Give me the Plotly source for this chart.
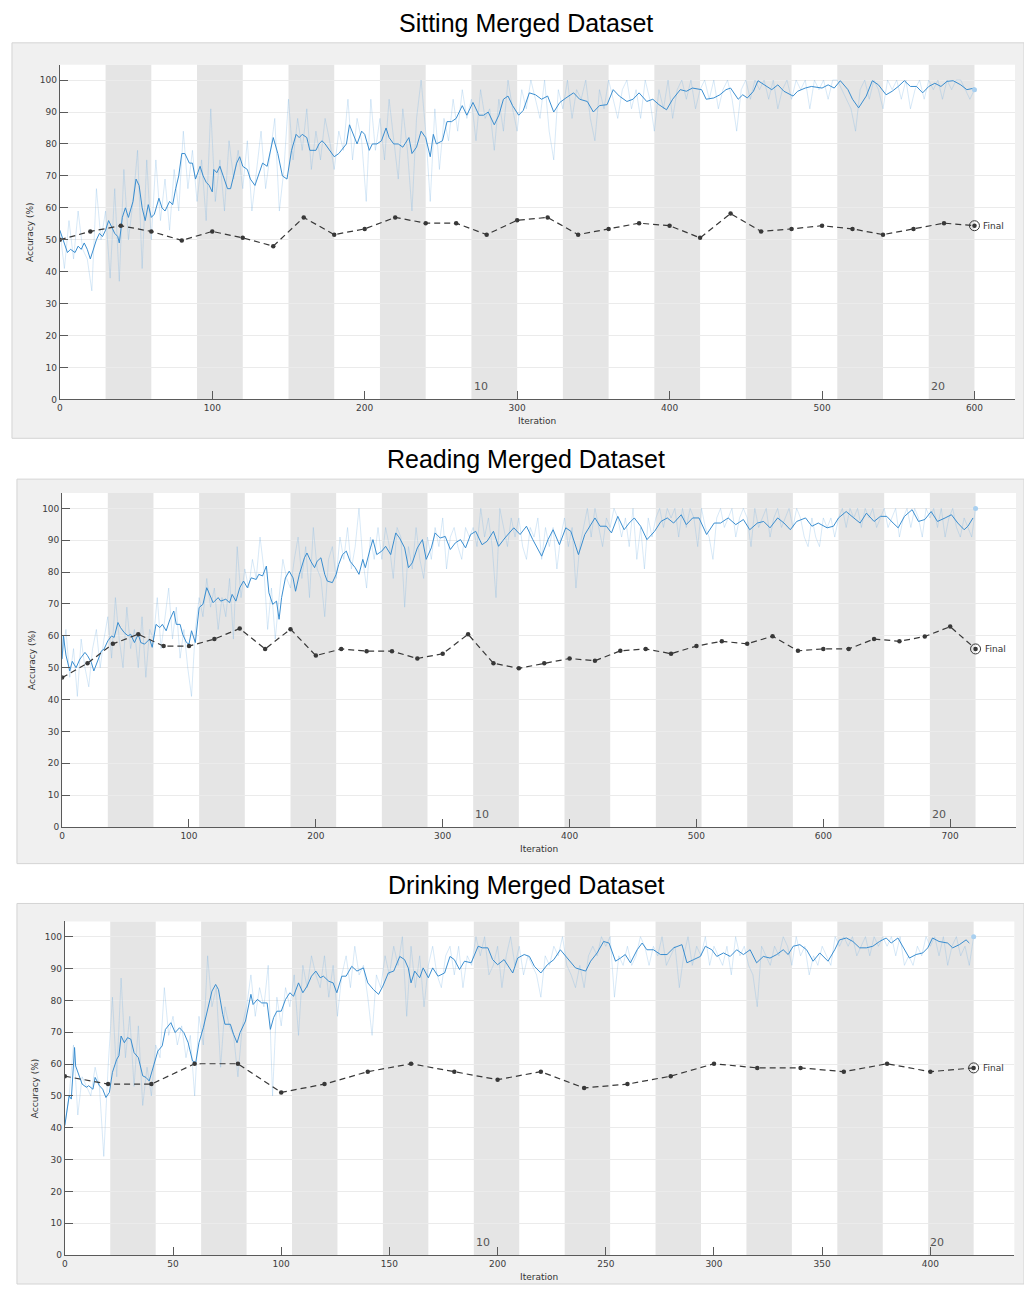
import plotly.graph_objects as go

W, H = 1024, 1289

# ---------------- Sitting ----------------
sit_iterations = 600
sit_raw_step = 3
sit_raw_acc = [
    53, 41, 56, 44, 59, 47, 44, 34, 66, 50,
    59, 38, 66, 37, 72, 50, 62, 78, 41, 75,
    50, 75, 56, 69, 53, 72, 59, 84, 66, 78,
    62, 75, 56, 91, 62, 75, 59, 81, 69, 78,
    66, 81, 59, 72, 84, 66, 78, 88, 59, 72,
    94, 75, 88, 78, 91, 72, 84, 75, 88, 81,
    72, 84, 78, 94, 75, 88, 81, 62, 94, 78,
    88, 75, 94, 81, 69, 91, 78, 59, 88, 100,
    84, 62, 91, 72, 88, 81, 94, 84, 97, 88,
    94, 81, 97, 88, 91, 78, 94, 84, 100, 91,
    84, 97, 91, 100, 94, 88, 100, 84, 75, 97,
    91, 100, 88, 97, 94, 100, 88, 81, 97, 91,
    100, 94, 88, 97, 100, 91, 97, 88, 100, 94,
    84, 97, 91, 100, 88, 97, 100, 94, 100, 91,
    97, 100, 94, 100, 91, 97, 100, 94, 84, 97,
    100, 94, 100, 97, 100, 94, 100, 91, 97, 100,
    94, 100, 97, 100, 91, 100, 97, 100, 94, 100,
    100, 97, 94, 91, 84, 97, 100, 94, 100, 97,
    91, 100, 97, 100, 94, 100, 91, 97, 100, 94,
    100, 97, 100, 94, 100, 97, 100, 100, 97, 94,
    97,
]
sit_smooth_iter = [
    0, 3, 5, 7, 10, 12, 14, 16, 18, 20, 22, 24, 26, 28, 30, 32, 34, 36, 38, 39,
    41, 43, 45, 48, 50, 52, 54, 56, 58, 60, 62, 65, 67, 69, 72, 74, 76, 78, 80, 82,
    85, 87, 89, 92, 94, 96, 98, 100, 101, 103, 105, 108, 110, 112, 114, 116, 118, 120, 123, 125,
    128, 131, 133, 136, 138, 140, 143, 146, 149, 150, 152, 155, 157, 159, 162, 164, 168, 170, 172, 174,
    177, 180, 183, 186, 188, 190, 193, 195, 198, 200, 203, 205, 208, 211, 214, 216, 219, 222, 225, 229,
    231, 234, 237, 240, 243, 245, 247, 251, 254, 257, 260, 264, 267, 271, 275, 278, 281, 285, 288, 291,
    294, 297, 301, 304, 308, 312, 316, 320, 324, 328, 332, 337, 341, 346, 350, 354, 359, 363, 367, 372,
    376, 380, 385, 389, 393, 398, 402, 407, 411, 415, 421, 424, 429, 433, 437, 440, 445, 448, 451, 455,
    458, 462, 467, 471, 475, 481, 484, 489, 493, 500, 504, 508, 512, 517, 520, 524, 529, 533, 537, 542,
    546, 550, 554, 558, 562, 566, 570, 574, 578, 582, 586, 591, 595, 600,
]
sit_smooth_acc = [
    53, 49, 46, 47, 46, 48, 47, 49, 47, 44, 47, 50, 52, 51, 53, 56, 54, 52, 51, 49,
    57, 60, 57, 62, 69, 67, 60, 56, 61, 57, 58, 63, 60, 59, 62, 61, 66, 70, 77, 77,
    74, 74, 69, 73, 70, 68, 67, 65, 72, 71, 73, 69, 66, 66, 70, 74, 76, 73, 72, 69,
    67, 71, 74, 73, 77, 82, 77, 70, 69, 72, 78, 83, 82, 83, 82, 78, 78, 80, 81, 80,
    78, 76, 77, 79, 80, 86, 82, 80, 84, 83, 78, 80, 80, 81, 85, 82, 80, 80, 79, 82,
    77, 79, 84, 82, 76, 83, 80, 81, 87, 87, 88, 92, 89, 93, 89, 89, 90, 86, 89, 94,
    95, 92, 89, 90.5, 96, 95.4, 94, 95, 90, 93, 94.4, 96, 94, 93.3, 90, 92, 92.3, 97, 95, 93.3,
    94, 96, 93.3, 94, 92.3, 90.7, 94, 97, 96.5, 97.5, 97, 94, 94.4, 95.4, 97, 97.5, 94, 95.4, 94.4, 96.5,
    99.8, 98.5, 97, 98.5, 96.5, 95, 96.5, 97.5, 98, 97.5, 98.5, 97.5, 99.8, 97, 94, 91.3, 95, 99.8, 98.5, 95.4,
    96.5, 98, 99.8, 98, 98, 96, 98, 99, 98, 99.6, 99.8, 98.5, 97, 97.5,
]
sit_val_step = 20
sit_val_acc = [
    50, 52.6, 54.4, 52.6, 49.8, 52.6, 50.6, 48.0, 57.0, 51.6,
    53.4, 57.0, 55.2, 55.2, 51.6, 56.1, 57.0, 51.6, 53.4, 55.2,
    54.4, 50.6, 58.2, 52.6, 53.4, 54.4, 53.4, 51.6, 53.4, 55.2,
    54.4,
]
sit_xticks = [0, 100, 200, 300, 400, 500, 600]

# ---------------- Reading ----------------
read_iterations = 720
read_raw_step = 3
read_raw_acc = [
    53, 62, 47, 56, 41, 59, 50, 44, 56, 62, 50, 59,
    66, 53, 72, 59, 50, 69, 56, 62, 50, 66, 47, 62,
    59, 72, 56, 66, 75, 59, 69, 53, 62, 50, 41, 62,
    72, 66, 78, 69, 75, 62, 72, 66, 78, 59, 88, 72,
    81, 75, 84, 78, 91, 81, 62, 75, 59, 72, 84, 78,
    75, 84, 91, 78, 88, 72, 94, 81, 78, 66, 84, 88,
    78, 91, 84, 94, 81, 88, 100, 84, 75, 91, 84, 94,
    84, 94, 88, 78, 94, 91, 69, 88, 81, 94, 84, 78,
    91, 84, 94, 88, 97, 81, 91, 94, 88, 84, 94, 91,
    94, 88, 100, 91, 97, 88, 72, 100, 94, 88, 97, 91,
    97, 88, 84, 94, 91, 97, 84, 94, 88, 94, 81, 91,
    97, 88, 94, 75, 88, 94, 100, 91, 100, 94, 88, 97,
    94, 100, 97, 91, 97, 88, 100, 84, 94, 81, 97, 91,
    97, 100, 94, 100, 97, 100, 91, 100, 94, 100, 97, 88,
    100, 94, 91, 84, 97, 100, 94, 97, 100, 91, 97, 100,
    97, 88, 100, 94, 97, 100, 91, 97, 100, 94, 97, 100,
    94, 100, 97, 91, 88, 97, 91, 88, 97, 94, 97, 91,
    97, 100, 94, 100, 97, 100, 94, 100, 97, 100, 94, 97,
    100, 94, 97, 100, 91, 97, 100, 94, 100, 97, 91, 100,
    97, 100, 94, 100, 91, 97, 100, 94, 91, 97, 94, 91,
    100,
]
read_smooth_iter = [
    0, 1, 3, 6, 8, 11, 14, 18, 20, 23, 25, 28, 31, 33, 36, 39, 41, 44, 46, 49,
    52, 54, 57, 60, 62, 65, 69, 71, 74, 77, 79, 82, 85, 88, 90, 93, 95, 98, 100, 102,
    105, 108, 111, 114, 117, 119, 123, 125, 129, 132, 134, 137, 140, 143, 146, 149, 153, 155, 158, 161,
    163, 166, 169, 171, 173, 176, 179, 182, 184, 187, 191, 193, 196, 199, 201, 204, 207, 209, 213, 216,
    218, 221, 224, 227, 231, 234, 237, 239, 243, 245, 248, 252, 255, 259, 263, 266, 270, 273, 276, 280,
    284, 287, 291, 294, 298, 302, 306, 310, 314, 318, 322, 326, 331, 335, 340, 344, 349, 356, 361, 366,
    371, 378, 383, 387, 392, 397, 401, 407, 412, 416, 420, 424, 429, 433, 438, 443, 447, 451, 456, 461,
    467, 472, 477, 482, 488, 492, 497, 502, 508, 514, 519, 525, 531, 537, 542, 548, 553, 558, 564, 569,
    574, 579, 586, 591, 596, 603, 608, 612, 618, 624, 629, 634, 640, 645, 650, 655, 659, 664, 670, 675,
    680, 685, 690, 696, 701, 706, 711, 714, 718,
]
read_smooth_acc = [
    52.7, 60, 54, 49, 52, 50, 52.7, 54.8, 53.8, 51.7, 49, 52, 55.3, 55.8, 58.4, 60, 59.5, 64.2, 62.6, 61,
    60, 60.5, 57.9, 60.5, 57.9, 57.4, 59, 56.4, 63.6, 62.6, 63.6, 61.6, 65.2, 67.8, 63.6, 63.6, 60.5, 57.9, 57.4, 61.6,
    57.9, 68.9, 69.9, 75.1, 72.5, 70.4, 72, 70.9, 71.5, 70.4, 73, 70.9, 75.1, 77.2, 75.1, 78.2, 77.7, 79.3, 78.8, 81.9,
    73.5, 69.9, 70.9, 65.2, 72, 78.2, 80.3, 78.2, 74, 79.3, 84.5, 86, 83.4, 81.4, 83.4, 84.5, 79.3, 77.2, 76.7, 79.3,
    82.4, 85.5, 86.6, 83.4, 81.4, 79.3, 84, 81.4, 87.6, 90.2, 85.5, 86.6, 88.1, 85.5, 92.3, 90.7, 87.6, 81.4, 82.9, 87.6,
    90.2, 84, 87.6, 92.3, 90.7, 91.2, 87.1, 89.2, 90.2, 87.6, 91.8, 92.8, 88.6, 89.7, 92.8, 88.1, 90.7, 93.9, 91.8, 94.4,
    90.2, 85, 90.2, 93.3, 88.6, 93.9, 92.8, 85.5, 91.8, 94.4, 97, 94.4, 94.4, 92.3, 97.5, 93.3, 95.4, 97, 94.4, 90.2,
    92.8, 95.9, 97, 95.4, 98, 94.9, 97, 97, 91.8, 95.4, 95.4, 97, 94.9, 96.5, 93.3, 95.4, 95.9, 93.9, 97, 95.4,
    93.3, 95.9, 97, 94.4, 95.4, 93.9, 94.4, 97, 99, 97, 95.4, 98.5, 95.9, 97.5, 97.5, 95.4, 93.9, 97.5, 99.6, 95.9,
    96.5, 99, 95.9, 97, 98, 95.4, 93.3, 94.4, 97,
]
read_val_step = 20
read_val_acc = [
    46.9, 51.4, 57.5, 60.5, 56.8, 56.8, 59.0, 62.3, 55.9, 62.1,
    53.8, 55.9, 55.2, 55.2, 52.9, 54.4, 60.5, 51.4, 49.8, 51.4,
    52.9, 52.2, 55.3, 55.9, 54.4, 56.8, 58.3, 57.5, 59.9, 55.3,
    55.9, 55.9, 59.0, 58.3, 59.8, 62.9, 55.9,
]
read_xticks = [0, 100, 200, 300, 400, 500, 600, 700]

# ---------------- Drinking ----------------
drink_iterations = 420
drink_raw_step = 2
drink_raw_acc = [
    41, 50, 66, 44, 56, 53, 50, 59, 53, 31,
    59, 81, 56, 87, 62, 75, 53, 72, 47, 59,
    50, 66, 62, 84, 69, 75, 66, 72, 62, 69,
    50, 75, 66, 94, 78, 84, 59, 78, 72, 69,
    56, 72, 78, 88, 75, 84, 78, 91, 50, 81,
    72, 84, 78, 88, 69, 91, 84, 94, 88, 84,
    94, 81, 91, 75, 88, 94, 84, 97, 88, 91,
    81, 69, 88, 84, 94, 88, 97, 91, 100, 75,
    97, 84, 94, 78, 91, 97, 88, 84, 94, 97,
    88, 97, 84, 94, 91, 100, 94, 100, 88, 91,
    97, 84, 94, 100, 91, 97, 88, 94, 91, 88,
    81, 94, 91, 97, 94, 100, 91, 88, 84, 91,
    84, 94, 97, 94, 100, 97, 100, 81, 94, 91,
    97, 91, 94, 100, 97, 91, 97, 94, 100, 91,
    94, 97, 84, 94, 100, 91, 97, 94, 100, 91,
    97, 94, 91, 97, 88, 100, 94, 97, 91, 88,
    78, 97, 94, 91, 97, 94, 100, 97, 91, 100,
    94, 97, 88, 94, 91, 97, 94, 91, 100, 97,
    100, 97, 100, 94, 97, 100, 94, 100, 97, 100,
    97, 100, 94, 100, 91, 94, 91, 97, 94, 100,
    97, 100, 94, 100, 91, 97, 100, 94, 97, 91,
    100,
]
drink_smooth_iter = [
    0, 2, 3, 4, 4.5, 5, 7, 8, 10, 11, 13, 14, 16, 17.5, 19, 20.6, 22, 24, 25, 26,
    27.5, 29, 30.5, 32, 34, 36, 37.5, 39, 41, 43, 45, 46.5, 49, 51, 53, 55, 57, 59, 60.5, 62,
    64, 66.5, 68, 69.7, 71, 73, 74, 76.5, 78, 79.6, 81, 83.5, 86, 87, 89, 91, 93.5, 95, 96.5, 98,
    100, 102, 104, 105.7, 108, 110, 112, 114, 116, 118, 119.5, 122, 124, 125.7, 128, 130, 132.6, 135, 138, 140,
    142.6, 145, 147, 149.5, 152, 154.8, 157, 158.7, 160, 161.7, 164, 165.6, 168, 170, 172.5, 175.5, 178, 180, 182.4, 184.7,
    187.8, 191, 193, 195.5, 197.7, 200, 203, 207, 209.3, 212.3, 214.7, 217, 220, 223, 226, 229, 232, 236, 240.7, 243,
    246, 249, 251.5, 254.5, 256.8, 259, 261.4, 264.5, 266.8, 269, 272, 275.3, 278.3, 281.4, 285.2, 287.5, 290.6, 293.7, 296, 299,
    301.3, 304.4, 307.5, 310.5, 313.6, 316.7, 319.7, 322.8, 325.9, 329, 332, 334.3, 336.6, 339.7, 342.8, 345.8, 348.9, 352.7, 355.8, 358,
    361.2, 364.2, 367.3, 370.4, 373.4, 376.5, 379.6, 381.9, 385, 388, 390.3, 393.4, 396.5, 398.8, 401, 404, 408, 410.3, 413.4, 416.5,
    418,
]
drink_smooth_acc = [
    40.7, 50, 49, 62.6, 65.2, 59.4, 55.3, 53.7, 52.7, 53.2, 52.1, 55.8, 53.2, 52.1, 49.5, 51.1, 57.4, 61.5, 62.6, 68.8,
    66.7, 68.3, 67.8, 63.6, 62, 56.3, 55.8, 54.7, 59.4, 64.1, 65.7, 70.9, 73, 69.9, 71.4, 69.9, 66.7, 61, 60.5, 66.7,
    71.4, 79.2, 82.9, 85, 83.4, 75.6, 72.5, 72.5, 69.3, 66.7, 69.9, 73.5, 81.9, 78.7, 80.3, 79.2, 79.2, 70.9, 74.6, 76.6,
    76.6, 80.3, 82.4, 81.3, 85.5, 82.4, 84.5, 87.6, 89.2, 87.1, 87.6, 86, 85.5, 82.4, 87.6, 87.6, 90.7, 89.2, 90.2, 85.5,
    83.4, 81.9, 84.5, 88.6, 89.2, 93.8, 92.8, 90.2, 85.5, 89.2, 87.1, 90.2, 87.1, 90.2, 87.6, 88.6, 93.8, 92.8, 89.7, 92.3,
    91.8, 97, 96.5, 96.5, 92.8, 91.2, 92.8, 88.6, 93.3, 94.4, 93.8, 90.7, 88.6, 91.2, 92.8, 95.9, 93.3, 90.2, 89.2, 92.3,
    94.9, 98.5, 98, 92.3, 93.3, 94.4, 91.8, 95.9, 98, 95.9, 95.9, 94.4, 94.4, 96.5, 97.5, 91.8, 92.8, 93.8, 97, 95.9,
    93.8, 94.9, 93.8, 95.9, 94.4, 95.9, 91.8, 93.8, 93.3, 94.4, 95.9, 94.4, 97, 97.5, 95.9, 92.3, 94.9, 92.3, 95.9, 99,
    99.6, 98.5, 96.5, 96.5, 97, 98.5, 99.6, 98, 99.6, 95.9, 93.3, 94.4, 94.9, 96.5, 99.6, 98.5, 98, 96.5, 97.5, 99,
    98,
]
drink_val_step = 20
drink_val_acc = [
    56.2, 53.7, 53.7, 60.1, 60.1, 51.1, 53.7, 57.6, 60.1, 57.6,
    55.1, 57.6, 52.5, 53.7, 56.2, 60.1, 58.8, 58.8, 57.6, 60.1,
    57.6, 58.8,
]
drink_xticks = [0, 50, 100, 150, 200, 250, 300, 350, 400]

n_epochs = 20
epoch_labels = [10, 20]
y_ticks = list(range(0, 101, 10))

# ---------------- styling ----------------
FONT = "DejaVu Sans"
FRAME_FILL = "#f0f0f0"
FRAME_LINE = "#d4d4d4"
BAND_FILL = "#e5e5e5"
GRID = "#ebebeb"
AXIS = "#5a5a5a"
TICK_TXT = "#3c3c3c"
RAW_CLR = "rgba(120,178,228,0.42)"
SMOOTH_CLR = "#3088cd"
VAL_CLR = "#383838"
FINAL_RAW_CLR = "#a9d0f0"

panels = [
    dict(title="Sitting Merged Dataset", n=sit_iterations, raw=sit_raw_acc, raw_step=sit_raw_step,
         s_it=sit_smooth_iter, s_acc=sit_smooth_acc, val=sit_val_acc, val_step=sit_val_step,
         xticks=sit_xticks, frame=(9, 43, 1024, 440), axes=(57, 65, 1015, 401),
         xmax=626.6, title_y=23.5, ylab_x=27, xlab=(536, 423)),
    dict(title="Reading Merged Dataset", n=read_iterations, raw=read_raw_acc, raw_step=read_raw_step,
         s_it=read_smooth_iter, s_acc=read_smooth_acc, val=read_val_acc, val_step=read_val_step,
         xticks=read_xticks, frame=(14, 481, 1024, 867), axes=(59.3, 495, 1016, 830.3),
         xmax=751.9, title_y=460.5, ylab_x=29, xlab=(538, 852)),
    dict(title="Drinking Merged Dataset", n=drink_iterations, raw=drink_raw_acc, raw_step=drink_raw_step,
         s_it=drink_smooth_iter, s_acc=drink_smooth_acc, val=drink_val_acc, val_step=drink_val_step,
         xticks=drink_xticks, frame=(14, 907, 1024, 1289), axes=(62, 925, 1014.3, 1260),
         xmax=438.8, title_y=888.5, ylab_x=32, xlab=(538, 1282)),
]

YMAX = 104.8

fig = go.Figure()
shapes = []
annotations = []
layout_axes = {}


def fx(p):
    return p / W


def fy(p):
    return 1 - p / H


for i, p in enumerate(panels):
    sfx = "" if i == 0 else str(i + 1)
    xname, yname = "x" + sfx, "y" + sfx
    ax0, ay0, ax1, ay1 = p["axes"]
    fx0, fy0, fx1, fy1 = p["frame"]

    # grey figure panel and white axes area
    shapes.append(dict(type="rect", xref="paper", yref="paper",
                       x0=fx(fx0), x1=fx(fx1), y0=fy(fy1), y1=fy(fy0),
                       fillcolor=FRAME_FILL, line=dict(color=FRAME_LINE, width=1), layer="below"))
    shapes.append(dict(type="rect", xref=xname + " domain", yref=yname + " domain",
                       x0=0, x1=1, y0=0, y1=1, fillcolor="white", line_width=0, layer="below"))

    # alternating epoch shading
    ep = p["n"] / n_epochs
    for k in range(1, n_epochs, 2):
        shapes.append(dict(type="rect", xref=xname, yref=yname + " domain",
                           x0=k * ep, x1=(k + 1) * ep, y0=0, y1=1,
                           fillcolor=BAND_FILL, line_width=0, layer="below"))
    for e in epoch_labels:
        annotations.append(dict(xref=xname, yref=yname, x=(e - 1) * ep + 0.2 * ep, y=0,
                                yshift=13, text=str(e), showarrow=False,
                                font=dict(family=FONT, size=11, color="#555555")))

    # training accuracy (raw and smoothed)
    raw_x = list(range(0, p["n"], p["raw_step"])) + [p["n"]]
    fig.add_trace(go.Scatter(x=raw_x, y=p["raw"], mode="lines", xaxis=xname, yaxis=yname,
                             line=dict(color=RAW_CLR, width=0.7), hoverinfo="skip", showlegend=False))
    fig.add_trace(go.Scatter(x=p["s_it"], y=p["s_acc"], mode="lines", xaxis=xname, yaxis=yname,
                             line=dict(color=SMOOTH_CLR, width=0.95), showlegend=False))
    fig.add_trace(go.Scatter(x=[raw_x[-1]], y=[p["raw"][-1]], mode="markers", xaxis=xname, yaxis=yname,
                             marker=dict(color=FINAL_RAW_CLR, size=5), showlegend=False))

    # validation accuracy
    val_x = [k * p["val_step"] for k in range(len(p["val"]))]
    fig.add_trace(go.Scatter(x=val_x, y=p["val"], mode="lines+markers", xaxis=xname, yaxis=yname,
                             line=dict(color=VAL_CLR, width=1.2, dash="6px,4px"),
                             marker=dict(color=VAL_CLR, size=4.5), showlegend=False))
    fig.add_trace(go.Scatter(x=[val_x[-1]], y=[p["val"][-1]], mode="markers", xaxis=xname, yaxis=yname,
                             marker=dict(symbol="circle-open-dot", size=10, color=VAL_CLR,
                                         line=dict(width=1, color=VAL_CLR)), showlegend=False))
    annotations.append(dict(xref=xname, yref=yname, x=val_x[-1], y=p["val"][-1], xanchor="left",
                            xshift=7, text="Final", showarrow=False,
                            font=dict(family=FONT, size=9, color="#333333")))

    # titles and axis labels
    annotations.append(dict(xref="paper", yref="paper", x=fx(525), y=fy(p["title_y"]),
                            xanchor="center", yanchor="middle", text=p["title"], showarrow=False,
                            font=dict(family="Liberation Sans, Arial", size=25, color="#000000")))
    annotations.append(dict(xref="paper", yref="paper", x=fx(p["ylab_x"]), y=fy((ay0 + ay1) / 2),
                            xanchor="center", yanchor="middle", text="Accuracy (%)", textangle=-90,
                            showarrow=False, font=dict(family=FONT, size=9, color="#333333")))
    annotations.append(dict(xref="paper", yref="paper", x=fx(p["xlab"][0]), y=fy(p["xlab"][1]),
                            xanchor="center", yanchor="middle", text="Iteration",
                            showarrow=False, font=dict(family=FONT, size=9, color="#333333")))

    layout_axes["xaxis" + sfx] = dict(
        domain=[fx(ax0), fx(ax1)], anchor=yname, range=[0, p["xmax"]],
        tickvals=p["xticks"], ticks="inside", ticklen=8, tickcolor=AXIS, tickwidth=1,
        showline=True, linecolor=AXIS, linewidth=1, showgrid=False, zeroline=False,
        tickfont=dict(family=FONT, size=9, color=TICK_TXT), fixedrange=True)
    layout_axes["yaxis" + sfx] = dict(
        domain=[fy(ay1), fy(ay0)], anchor=xname, range=[0, YMAX],
        tickvals=y_ticks, ticks="inside", ticklen=8, tickcolor=AXIS, tickwidth=1,
        showline=True, linecolor=AXIS, linewidth=1, showgrid=True, gridcolor=GRID, gridwidth=1,
        zeroline=False, tickfont=dict(family=FONT, size=9, color=TICK_TXT), fixedrange=True)

fig.update_layout(
    width=W, height=H, margin=dict(l=0, r=0, t=0, b=0),
    paper_bgcolor="white", plot_bgcolor="white",
    shapes=shapes, annotations=annotations, showlegend=False,
    **layout_axes,
)

fig.write_html("out.html", config={"displayModeBar": False})
